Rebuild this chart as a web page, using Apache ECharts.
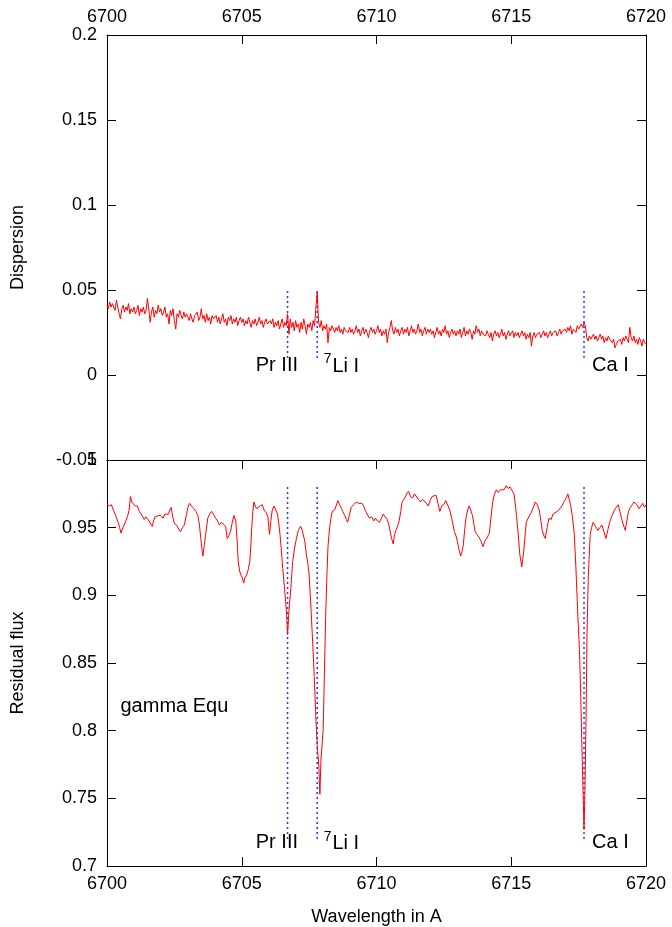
<!DOCTYPE html>
<html>
<head>
<meta charset="utf-8">
<script src="https://cdn.jsdelivr.net/npm/echarts@6/dist/echarts.min.js"></script>
<style>
html,body{margin:0;padding:0;background:#fff;}
#chart{width:672px;height:927px;}
</style>
</head>
<body>
<div id="chart"></div>
<script>
// ---------- DATA ----------
const xTicks = [6700, 6705, 6710, 6715, 6720];
const dispStart = 6700, dispStep = 0.05;
const dispersion = [
0.041,0.039,0.043,0.040,0.042,0.041,0.038,0.044,0.040,0.036,0.033,0.039,0.041,0.037,0.040,0.038,0.042,0.036,0.039,0.037,
0.040,0.036,0.038,0.041,0.035,0.039,0.037,0.040,0.036,0.038,0.045,0.039,0.031,0.037,0.040,0.034,0.038,0.036,0.041,0.037,
0.039,0.035,0.037,0.040,0.034,0.036,0.030,0.038,0.035,0.039,0.032,0.027,0.036,0.034,0.038,0.035,0.033,0.037,0.034,0.036,
0.035,0.032,0.036,0.033,0.031,0.035,0.034,0.037,0.032,0.034,0.039,0.033,0.035,0.031,0.036,0.032,0.034,0.030,0.035,0.033,
0.032,0.035,0.031,0.034,0.030,0.033,0.036,0.031,0.033,0.029,0.034,0.032,0.035,0.030,0.033,0.031,0.034,0.029,0.032,0.034,
0.031,0.033,0.029,0.032,0.030,0.034,0.031,0.028,0.032,0.030,0.033,0.029,0.031,0.034,0.030,0.032,0.028,0.031,0.033,0.030,
0.029,0.032,0.030,0.033,0.028,0.031,0.029,0.032,0.027,0.030,0.033,0.028,0.031,0.029,0.036,0.024,0.033,0.028,0.031,0.026,
0.032,0.028,0.030,0.025,0.031,0.027,0.033,0.029,0.024,0.030,0.028,0.031,0.026,0.032,0.029,0.030,0.049,0.031,0.028,0.032,
0.026,0.029,0.027,0.030,0.019,0.028,0.026,0.029,0.027,0.025,0.028,0.026,0.029,0.025,0.027,0.024,0.028,0.026,0.027,0.025,
0.028,0.025,0.027,0.024,0.026,0.029,0.025,0.027,0.023,0.026,0.028,0.024,0.027,0.025,0.022,0.026,0.028,0.025,0.027,0.024,
0.026,0.029,0.025,0.027,0.023,0.026,0.024,0.027,0.019,0.025,0.028,0.032,0.026,0.024,0.028,0.025,0.027,0.023,0.026,0.028,
0.024,0.027,0.025,0.028,0.023,0.026,0.029,0.025,0.027,0.024,0.026,0.030,0.025,0.027,0.023,0.026,0.028,0.024,0.027,0.025,
0.027,0.024,0.026,0.022,0.025,0.028,0.024,0.026,0.023,0.027,0.025,0.029,0.024,0.026,0.022,0.025,0.027,0.024,0.026,0.023,
0.026,0.024,0.027,0.022,0.025,0.028,0.023,0.026,0.024,0.027,0.025,0.021,0.026,0.024,0.029,0.025,0.027,0.023,0.026,0.024,
0.025,0.023,0.026,0.024,0.022,0.025,0.020,0.024,0.026,0.023,0.025,0.022,0.024,0.027,0.023,0.025,0.021,0.024,0.026,0.023,
0.024,0.026,0.022,0.025,0.023,0.025,0.022,0.024,0.026,0.023,0.025,0.021,0.024,0.022,0.025,0.017,0.023,0.025,0.022,0.024,
0.023,0.025,0.022,0.024,0.026,0.023,0.025,0.022,0.024,0.026,0.023,0.025,0.024,0.026,0.023,0.025,0.027,0.024,0.026,0.025,
0.027,0.025,0.028,0.026,0.029,0.024,0.027,0.028,0.025,0.029,0.027,0.026,0.030,0.028,0.031,0.029,0.022,0.020,0.023,0.021,
0.022,0.024,0.021,0.023,0.020,0.022,0.024,0.021,0.023,0.019,0.022,0.020,0.023,0.021,0.022,0.019,0.021,0.016,0.018,0.020,
0.019,0.021,0.018,0.022,0.020,0.023,0.021,0.019,0.028,0.022,0.020,0.023,0.019,0.021,0.018,0.022,0.020,0.017,0.021,0.019,
0.018
];

const fluxWl = [
6700.00,6700.08,6700.16,6700.26,6700.34,6700.41,6700.47,6700.52,6700.57,6700.62,6700.70,6700.77,6700.82,6700.87,6700.92,6700.98,
6701.05,6701.13,6701.20,6701.30,6701.38,6701.44,6701.49,6701.56,6701.62,6701.68,6701.73,6701.78,6701.85,6701.92,
6702.00,6702.08,6702.15,6702.20,6702.28,6702.33,6702.38,6702.44,6702.50,6702.58,6702.65,6702.72,6702.80,6702.87,6702.95,
6703.00,6703.06,6703.14,6703.23,6703.30,6703.37,6703.43,6703.48,6703.53,6703.56,6703.61,6703.66,6703.74,6703.81,6703.88,6703.95,
6704.03,6704.10,6704.17,6704.25,6704.32,6704.40,6704.46,6704.52,6704.58,6704.65,6704.71,6704.78,6704.83,6704.87,6704.92,6704.97,
6705.02,6705.07,6705.12,6705.18,6705.24,6705.30,6705.34,6705.37,6705.41,6705.45,6705.50,6705.56,6705.62,6705.68,6705.76,6705.83,6705.91,6705.97,
6706.03,6706.08,6706.13,6706.20,6706.27,6706.33,6706.38,6706.42,6706.47,6706.52,6706.58,6706.63,6706.67,6706.70,6706.74,6706.77,6706.82,6706.89,6706.96,
6707.03,6707.10,6707.18,6707.23,6707.28,6707.34,6707.40,6707.45,6707.50,6707.57,6707.64,6707.69,6707.74,6707.80,6707.86,6707.90,6707.94,6707.97,
6708.02,6708.05,6708.11,6708.16,6708.20,6708.26,6708.31,6708.36,6708.44,6708.50,6708.57,6708.63,6708.70,6708.75,6708.82,6708.88,6708.93,6708.98,
6709.06,6709.15,6709.25,6709.33,6709.40,6709.46,6709.52,6709.60,6709.67,6709.74,6709.82,6709.90,6709.96,
6710.03,6710.11,6710.18,6710.25,6710.32,6710.40,6710.46,6710.51,6710.56,6710.62,6710.67,6710.72,6710.78,6710.83,6710.90,6710.95,
6711.00,6711.05,6711.12,6711.19,6711.26,6711.34,6711.41,6711.48,6711.55,6711.63,6711.70,6711.77,6711.85,6711.92,6711.99,
6712.06,6712.13,6712.21,6712.28,6712.35,6712.42,6712.50,6712.57,6712.64,6712.72,6712.79,6712.84,6712.89,6712.95,
6713.00,6713.06,6713.12,6713.17,6713.22,6713.27,6713.32,6713.38,6713.44,6713.50,6713.56,6713.61,6713.66,6713.73,6713.80,6713.88,6713.95,
6714.02,6714.09,6714.14,6714.19,6714.25,6714.31,6714.38,6714.45,6714.52,6714.60,6714.67,6714.74,6714.81,6714.88,6714.96,
6715.01,6715.06,6715.10,6715.14,6715.20,6715.25,6715.32,6715.39,6715.46,6715.52,6715.56,6715.65,6715.74,6715.82,6715.89,6715.96,
6716.04,6716.10,6716.15,6716.21,6716.26,6716.33,6716.40,6716.48,6716.55,6716.62,6716.70,6716.76,6716.81,6716.88,6716.95,
6717.02,6717.10,6717.15,6717.20,6717.27,6717.34,6717.40,6717.46,6717.53,6717.58,6717.62,6717.67,6717.70,6717.73,6717.77,6717.81,6717.86,6717.93,6717.98,
6718.04,6718.12,6718.22,6718.29,6718.36,6718.44,6718.51,6718.58,6718.65,6718.74,6718.83,6718.90,6718.97,
6719.03,6719.09,6719.16,6719.23,6719.29,6719.35,6719.42,6719.49,6719.55,6719.59,6719.66,6719.74,6719.81,6719.88,6719.94,6720.00
];
const fluxVal = [
0.967,0.966,0.967,0.962,0.958,0.954,0.950,0.946,0.949,0.950,0.955,0.959,0.963,0.973,0.969,0.968,
0.966,0.966,0.962,0.959,0.956,0.958,0.957,0.955,0.956,0.951,0.955,0.958,0.957,0.959,
0.959,0.957,0.960,0.959,0.960,0.963,0.965,0.958,0.953,0.952,0.951,0.947,0.950,0.952,0.960,
0.965,0.968,0.966,0.964,0.962,0.959,0.952,0.942,0.933,0.929,0.937,0.945,0.957,0.960,0.962,0.960,
0.957,0.955,0.952,0.954,0.955,0.951,0.942,0.944,0.947,0.954,0.959,0.955,0.940,0.925,0.918,0.915,
0.913,0.909,0.913,0.915,0.919,0.925,0.938,0.950,0.962,0.969,0.966,0.964,0.963,0.966,0.967,0.963,0.961,0.958,
0.945,0.955,0.963,0.966,0.965,0.960,0.952,0.945,0.933,0.920,0.907,0.895,0.884,0.871,0.885,0.893,0.905,0.925,0.935,
0.942,0.948,0.951,0.949,0.948,0.940,0.930,0.924,0.915,0.890,0.862,0.840,0.814,0.789,0.774,0.753,0.779,0.778,
0.800,0.826,0.882,0.915,0.936,0.950,0.957,0.962,0.963,0.966,0.970,0.967,0.964,0.962,0.959,0.956,0.954,0.958,
0.965,0.967,0.969,0.968,0.969,0.968,0.966,0.962,0.961,0.957,0.958,0.955,0.957,
0.955,0.954,0.957,0.960,0.958,0.956,0.952,0.947,0.942,0.938,0.945,0.948,0.951,0.954,0.962,0.969,
0.968,0.972,0.975,0.977,0.973,0.972,0.975,0.974,0.971,0.969,0.971,0.970,0.968,0.966,0.970,
0.973,0.972,0.974,0.968,0.962,0.966,0.967,0.970,0.969,0.963,0.957,0.952,0.947,0.944,
0.940,0.934,0.929,0.932,0.937,0.948,0.957,0.963,0.966,0.963,0.959,0.953,0.947,0.945,0.943,0.940,0.936,
0.940,0.942,0.944,0.946,0.958,0.969,0.975,0.978,0.976,0.978,0.979,0.978,0.981,0.979,0.980,
0.978,0.979,0.975,0.969,0.958,0.947,0.930,0.921,0.932,0.946,0.954,0.958,0.961,0.965,0.969,0.967,
0.963,0.955,0.948,0.944,0.942,0.950,0.957,0.956,0.960,0.959,0.962,0.961,0.964,0.966,0.969,
0.971,0.975,0.971,0.967,0.958,0.945,0.920,0.890,0.860,0.825,0.790,0.750,0.727,0.750,0.800,0.870,0.915,0.945,0.950,
0.954,0.951,0.948,0.950,0.952,0.947,0.942,0.948,0.954,0.959,0.963,0.965,0.967,
0.962,0.957,0.952,0.948,0.955,0.962,0.965,0.967,0.969,0.970,0.967,0.964,0.966,0.968,0.965,0.967
];

const idWl = [6706.7, 6707.8, 6717.7];
const idTopRange = [0.01, 0.05];
const idBottomRange = [0.72, 0.98];
const idLabels = ['Pr III', '{s|7}{t|Li I}', 'Ca I'];
const idLabelWl = [6705.52, 6708.04, 6718.0];
const idLabelTopY = [0.0056, 0.0050, 0.0056];
const idLabelBottomY = [0.7175, 0.7165, 0.7175];
const starLabel = 'gamma Equ';
const starLabelPos = [6700.5, 0.8175];

// ---------- CHART ----------
const FONT = '"Liberation Sans", Arial, Helvetica, sans-serif';
const black = '#000';
const chart = echarts.init(document.getElementById('chart'), null, {renderer: 'canvas'});

function xAx(grid, pos, showLabels, showTicks, extra) {
  return Object.assign({
    type: 'value', gridIndex: grid, position: pos, min: 6700, max: 6720, interval: 5,
    axisLine: {show: true, onZero: false, lineStyle: {color: black, width: 1}},
    axisTick: {show: showTicks, inside: true, length: 9, lineStyle: {color: black}},
    axisLabel: {show: showLabels, color: black, fontSize: 18, fontFamily: FONT, margin: 9,
      formatter: v => String(v)},
    splitLine: {show: false}
  }, extra || {});
}
function yAx(grid, pos, min, max, showLabels, extra) {
  return Object.assign({
    type: 'value', gridIndex: grid, position: pos, min: min, max: max, interval: 0.05,
    axisLine: {show: true, onZero: false, lineStyle: {color: black, width: 1}},
    axisTick: {show: true, inside: true, length: 9, lineStyle: {color: black}},
    axisLabel: {show: showLabels, color: black, fontSize: 18, fontFamily: FONT, margin: 10},
    splitLine: {show: false}
  }, extra || {});
}

const series = [];
series.push({
  type: 'line', xAxisIndex: 0, yAxisIndex: 0, showSymbol: false, symbol: 'none',
  data: dispersion.map((v, i) => [dispStart + i * dispStep, v]),
  lineStyle: {color: '#ff0000', width: 1}, animation: false, z: 3
});
series.push({
  type: 'line', xAxisIndex: 2, yAxisIndex: 2, showSymbol: false, symbol: 'none',
  data: fluxWl.map((w, i) => [w, fluxVal[i]]),
  lineStyle: {color: '#ff0000', width: 1}, animation: false, z: 3
});
idWl.forEach(w => {
  series.push({
    type: 'line', xAxisIndex: 0, yAxisIndex: 0, symbol: 'none',
    data: [[w, idTopRange[0]], [w, idTopRange[1]]],
    lineStyle: {color: '#3030ff', width: 1.5, type: [2, 3]}, animation: false, z: 2
  });
  series.push({
    type: 'line', xAxisIndex: 2, yAxisIndex: 2, symbol: 'none',
    data: [[w, idBottomRange[0]], [w, idBottomRange[1]]],
    lineStyle: {color: '#3030ff', width: 1.5, type: [2, 3]}, animation: false, z: 2
  });
});
const labelStyle = {
  show: true, position: 'right', distance: 0, color: black, opacity: 1,
  fontSize: 20, fontFamily: FONT, textBorderWidth: 0,
  formatter: p => p.data.name,
  rich: {
    s: {fontSize: 14, fontFamily: FONT, color: black, padding: [0, 1, 14, 0]},
    t: {fontSize: 20, fontFamily: FONT, color: black}
  }
};
series.push({
  type: 'scatter', xAxisIndex: 0, yAxisIndex: 0, symbolSize: 0, silent: true,
  itemStyle: {color: black, opacity: 1},
  data: idLabels.map((n, i) => ({name: n, value: [idLabelWl[i], idLabelTopY[i]]})),
  label: labelStyle, animation: false
});
series.push({
  type: 'scatter', xAxisIndex: 2, yAxisIndex: 2, symbolSize: 0, silent: true,
  itemStyle: {color: black, opacity: 1},
  data: idLabels.map((n, i) => ({name: n, value: [idLabelWl[i], idLabelBottomY[i]]}))
    .concat([{name: starLabel, value: starLabelPos}]),
  label: labelStyle, animation: false
});

chart.setOption({
  backgroundColor: '#fff',
  animation: false,
  grid: [
    {left: 107, right: 26, top: 35, height: 425},
    {left: 107, right: 26, top: 460, height: 407}
  ],
  xAxis: [
    xAx(0, 'top', true, true),
    xAx(0, 'bottom', false, false),
    xAx(1, 'bottom', true, true, {
      name: 'Wavelength in A', nameLocation: 'middle', nameGap: 42,
      nameTextStyle: {color: black, fontSize: 18, fontFamily: FONT}
    }),
    xAx(1, 'top', false, true)
  ],
  yAxis: [
    yAx(0, 'left', -0.05, 0.2, true, {
      name: 'Dispersion', nameLocation: 'middle', nameGap: 80,
      nameTextStyle: {color: black, fontSize: 18, fontFamily: FONT}
    }),
    yAx(0, 'right', -0.05, 0.2, false),
    yAx(1, 'left', 0.7, 1.0, true, {
      name: 'Residual flux', nameLocation: 'middle', nameGap: 80,
      nameTextStyle: {color: black, fontSize: 18, fontFamily: FONT}
    }),
    yAx(1, 'right', 0.7, 1.0, false)
  ],
  series: series
});
</script>
</body>
</html>
